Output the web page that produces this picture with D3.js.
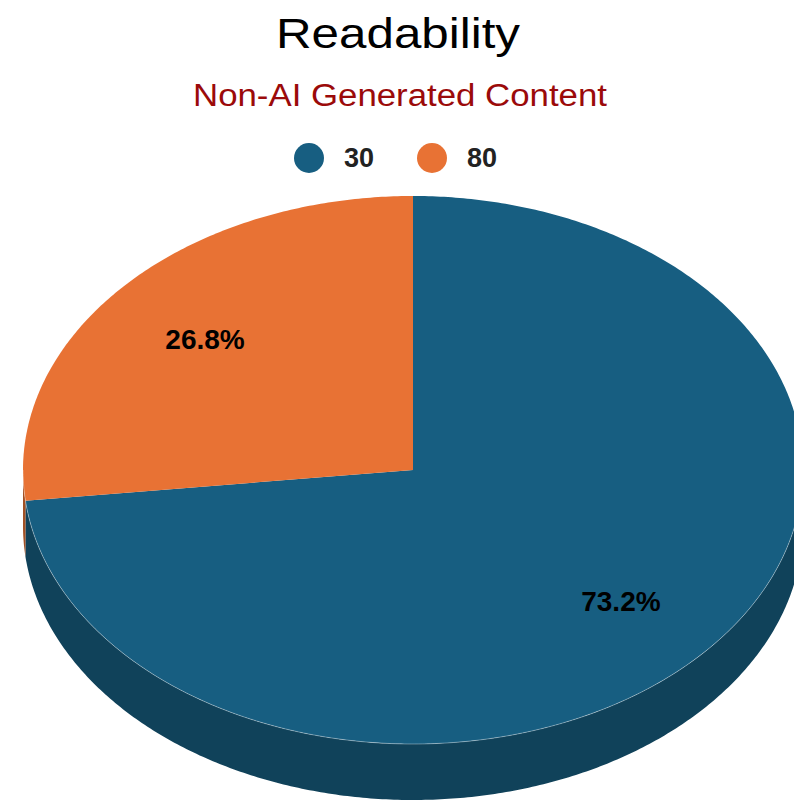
<!DOCTYPE html>
<html>
<head>
<meta charset="utf-8">
<script src="https://cdn.jsdelivr.net/npm/d3@7"></script>
<style>
  body { margin: 0; background: #fff; }
  svg { display: block; font-family: "Liberation Sans", Arial, sans-serif; }
</style>
</head>
<body>
<div id="chart-area"></div>
<script>
// chart data
var categories = ["30", "80"];
var counts = [41, 15];
var colors = ["#175e81", "#e87234"];

var width = 794, height = 802;
var cx = 413, cy = 470, rx = 390, ry = 274, depth = 56;

var svg = d3.select("#chart-area").append("svg")
    .attr("width", width)
    .attr("height", height);

// title + subtitle
svg.append("text")
    .attr("x", 398).attr("y", 48)
    .attr("text-anchor", "middle")
    .attr("font-size", 42)
    .attr("textLength", 244).attr("lengthAdjust", "spacingAndGlyphs")
    .attr("fill", "#000")
    .text("Readability");

svg.append("text")
    .attr("x", 400).attr("y", 106)
    .attr("text-anchor", "middle")
    .attr("font-size", 31)
    .attr("textLength", 414).attr("lengthAdjust", "spacingAndGlyphs")
    .attr("fill", "#9b0a0a")
    .text("Non-AI Generated Content");

// legend
var legendX = d3.scalePoint().domain(categories).range([309, 432]);
var legend = svg.selectAll(".legend")
    .data(categories)
    .enter().append("g")
    .attr("class", "legend")
    .attr("transform", function(d){ return "translate(" + legendX(d) + ",158)"; });

legend.append("circle")
    .attr("r", 15)
    .attr("fill", function(d, i){ return colors[i]; });

legend.append("text")
    .attr("x", 35).attr("y", 9)
    .attr("font-size", 27)
    .attr("font-weight", "bold")
    .attr("fill", "#222")
    .text(function(d){ return d; });

// pie geometry (3D ellipse)
var x = d3.scaleLinear().domain([-1, 1]).range([cx - rx, cx + rx]);
var y = d3.scaleLinear().domain([-1, 1]).range([cy - ry, cy + ry]);

var arcs = d3.pie().sort(null).value(function(d){ return d; })(counts);
var total = d3.sum(counts);

function edgePoints(a0, a1, dy) {
    var n = Math.max(2, Math.ceil((a1 - a0) / 0.01));
    return d3.range(n + 1).map(function(i){
        var a = a0 + (a1 - a0) * i / n;
        return [x(Math.sin(a)), y(-Math.cos(a)) + dy];
    });
}

var line = d3.line();

// side walls (visible lower half only)
arcs.forEach(function(d, i){
    var a0 = Math.max(d.startAngle, Math.PI / 2);
    var a1 = Math.min(d.endAngle, Math.PI * 3 / 2);
    if (a1 <= a0) { return; }
    var top = edgePoints(a0, a1, 0);
    var bottom = edgePoints(a0, a1, depth).reverse();
    svg.append("path")
        .attr("d", line(top.concat(bottom)) + "Z")
        .attr("fill", d3.color(colors[i]).darker(1).formatHex());
});

// top faces
arcs.forEach(function(d, i){
    var pts = [[cx, cy]].concat(edgePoints(d.startAngle, d.endAngle, 0));
    svg.append("path")
        .attr("d", line(pts) + "Z")
        .attr("fill", colors[i]);
});

// light rim where top face meets the wall
svg.append("path")
    .attr("d", line(edgePoints(Math.PI / 2, Math.PI * 3 / 2, 0)))
    .attr("fill", "none")
    .attr("stroke", "rgba(255,255,255,0.35)")
    .attr("stroke-width", 1);

// percent labels
var fmt = d3.format(".1%");
svg.selectAll(".pct")
    .data(arcs)
    .enter().append("text")
    .attr("class", "pct")
    .attr("x", function(d){ return x(0.715 * Math.sin((d.startAngle + d.endAngle) / 2)); })
    .attr("y", function(d){ return y(-0.715 * Math.cos((d.startAngle + d.endAngle) / 2)) + 10; })
    .attr("text-anchor", "middle")
    .attr("font-size", 28)
    .attr("font-weight", "bold")
    .attr("fill", "#000")
    .text(function(d){ return fmt(d.value / total); });
</script>
</body>
</html>
